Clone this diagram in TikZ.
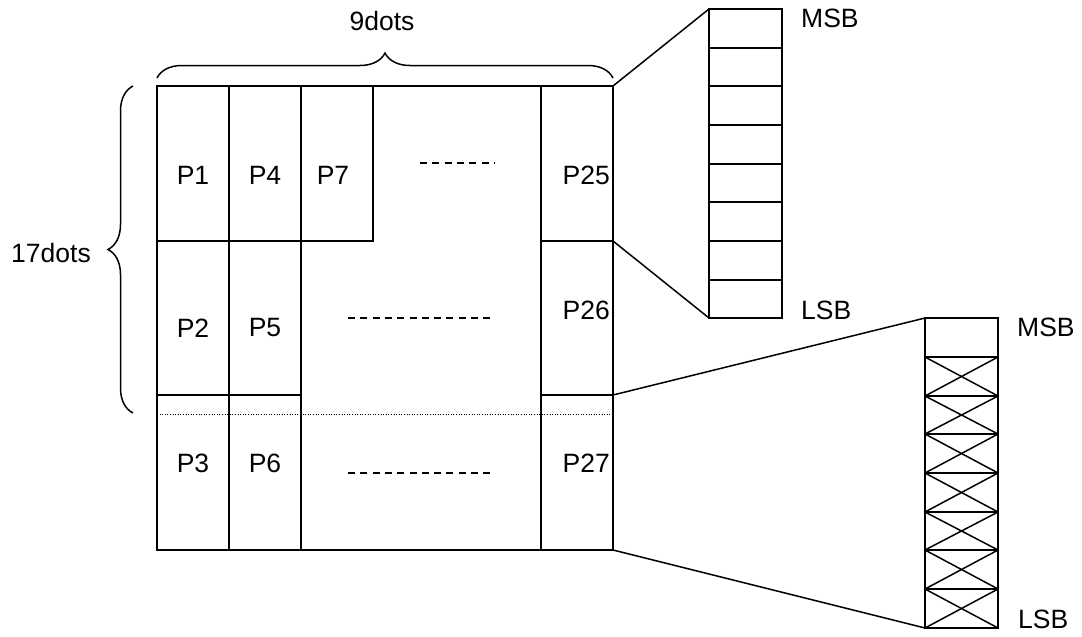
\documentclass[tikz,border=0pt]{standalone}
\usepackage{fontspec}
\setmainfont{Liberation Sans}
\usetikzlibrary{decorations.pathreplacing}
\begin{document}
\begin{tikzpicture}[x=1pt,y=-1pt,
  ln/.style={line width=1.5pt, line cap=rect},
  lbl/.style={inner sep=0pt, font=\fontsize{26.5}{30}\selectfont},
  dashrow/.style={line width=1.3pt, dash pattern=on 7pt off 5.3pt},
  brc/.style={line width=1.5pt, decorate, decoration={brace, amplitude=25pt, raise=0pt}}]
\useasboundingbox (0,0) rectangle (1082,637);
% grid coordinates
\coordinate (TL) at (157,86);
\coordinate (TR) at (613,86);
\coordinate (R1) at (613,241);
\coordinate (R2) at (613,395);
\coordinate (BR) at (613,550);
\coordinate (BL) at (157,550);
% outer frame
\draw[ln] (TL) rectangle (BR);
% verticals
\draw[ln] (229,86) -- (229,550);
\draw[ln] (301,86) -- (301,550);
\draw[ln] (373,86) -- (373,241);
\draw[ln] (541,86) -- (541,550);
% horizontals
\draw[ln] (157,241) -- (373,241);
\draw[ln] (541,241) -- (R1);
\draw[ln] (157,395) -- (301,395);
\draw[ln] (541,395) -- (R2);
% dotted line
\draw[line width=0.9pt, dash pattern=on 1pt off 1.6pt] (157,414) -- (613,414);
% dashes
\draw[dashrow] (420,163) -- (494,163);
\draw[dashrow] (348,318) -- (494,318);
\draw[dashrow] (348,473) -- (494,473);
% labels
\node[lbl] (p1) at (193,175) {P1};
\node[lbl] (p4) at (265,175) {P4};
\node[lbl] (p7) at (333,175) {P7};
\node[lbl,anchor=east] (p25) at (610,175) {P25};
\node[lbl] (p2) at (193,328) {P2};
\node[lbl] (p5) at (265,328) {P5};
\node[lbl,anchor=east] (p26) at (610,310) {P26};
\node[lbl] (p3) at (193,463) {P3};
\node[lbl] (p6) at (265,463) {P6};
\node[lbl,anchor=east] (p27) at (610,463) {P27};
% braces
\draw[brc] (157,78) -- (613,78);
\node[lbl] (w) at (382,21) {9dots};
\draw[brc] (133,413) -- (133,86);
\node[lbl] (h) at (51,253) {17dots};
% upper bit column
\coordinate (A1) at (709,9);
\coordinate (A2) at (709,318);
\draw[ln] (A1) rectangle (782,318);
\foreach \y in {48,86,125,164,202,241,280} {
  \draw[ln] (709,\y) -- (782,\y);
}
\draw[ln] (TR) -- (A1);
\draw[ln] (R1) -- (A2);
\node[lbl,anchor=west] (msb1) at (801,18) {MSB};
\node[lbl,anchor=west] (lsb1) at (801,310) {LSB};
% lower bit column
\coordinate (B1) at (925,318);
\coordinate (B2) at (925,628);
\draw[ln] (B1) rectangle (998,628);
\foreach \a/\b in {357/396,396/434,434/473,473/512,512/550,550/589,589/628} {
  \draw[ln] (925,\a) -- (998,\a);
  \draw[ln] (925,\a) -- (998,\b);
  \draw[ln] (998,\a) -- (925,\b);
}
\draw[ln] (R2) -- (B1);
\draw[ln] (BR) -- (B2);
\node[lbl,anchor=west] (msb2) at (1017,327) {MSB};
\node[lbl,anchor=west] (lsb2) at (1018,619) {LSB};
\end{tikzpicture}
\end{document}
